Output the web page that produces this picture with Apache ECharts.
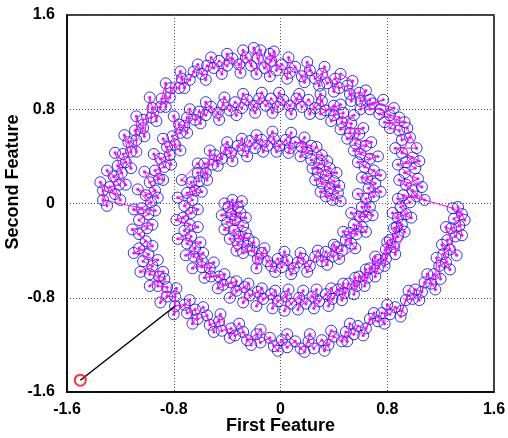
<!DOCTYPE html>
<html>
<head>
<meta charset="utf-8">
<script src="https://cdn.jsdelivr.net/npm/echarts@6/dist/echarts.min.js"></script>
<style>
  html, body { margin: 0; padding: 0; background: #fff; }
  #chart { width: 508px; height: 438px; }
</style>
</head>
<body>
<div id="chart"></div>
<script>
// first arm: starts at the inner cluster left of centre, winds outward
const armA = [
  [-0.36,0.03],[-0.39,-0.03],[-0.32,-0.03],[-0.37,-0.09],[-0.30,-0.08],[-0.34,-0.14],[-0.40,-0.16],[-0.28,-0.19],
  [-0.35,-0.23],[-0.31,-0.28],[-0.26,-0.25],[-0.32,-0.34],[-0.25,-0.36],[-0.28,-0.42],[-0.21,-0.40],[-0.17,-0.47],
  [-0.14,-0.42],[-0.10,-0.49],[-0.07,-0.53],[-0.02,-0.47],[0.01,-0.54],[0.05,-0.48],[0.10,-0.55],[0.13,-0.50],
  [0.17,-0.47],[0.22,-0.53],[0.26,-0.45],[0.31,-0.49],[0.34,-0.41],[0.39,-0.45],[0.42,-0.37],[0.46,-0.40],
  [0.49,-0.31],[0.53,-0.34],[0.52,-0.25],[0.57,-0.26],[0.55,-0.18],[0.61,-0.20],[0.59,-0.11],[0.64,-0.11],
  [0.61,-0.03],[0.67,-0.03],[0.64,0.04],[0.70,0.06],[0.66,0.13],[0.71,0.17],[0.65,0.21],[0.70,0.28],
  [0.63,0.31],[0.67,0.38],[0.60,0.42],[0.64,0.49],[0.56,0.51],[0.59,0.59],[0.52,0.60],[0.53,0.68],
  [0.46,0.69],[0.47,0.77],[0.40,0.75],[0.40,0.83],[0.34,0.79],[0.31,0.87],[0.26,0.81],[0.21,0.88],
  [0.16,0.82],[0.12,0.89],[0.07,0.83],[0.02,0.88],[-0.02,0.82],[-0.07,0.89],[-0.11,0.83],[-0.16,0.89],
  [-0.20,0.83],[-0.25,0.88],[-0.29,0.81],[-0.34,0.86],[-0.38,0.79],[-0.43,0.84],[-0.47,0.77],[-0.52,0.82],
  [-0.56,0.75],[-0.61,0.78],[-0.64,0.71],[-0.70,0.73],[-0.72,0.66],[-0.76,0.67],[-0.75,0.60],[-0.81,0.57],
  [-0.79,0.50],[-0.85,0.48],[-0.83,0.41],[-0.90,0.38],[-0.87,0.31],[-0.94,0.28],[-0.91,0.21],[-0.98,0.18],
  [-0.94,0.11],[-1.01,0.07],[-0.97,0.01],[-1.04,-0.04],[-0.99,-0.09],[-1.06,-0.14],[-1.00,-0.21],[-1.06,-0.26],
  [-1.01,-0.32],[-1.06,-0.38],[-0.99,-0.43],[-1.03,-0.49],[-0.96,-0.53],[-0.98,-0.60],[-0.91,-0.62],[-0.92,-0.70],
  [-0.85,-0.71],[-0.85,-0.79],[-0.79,-0.79],[-0.79,-0.87],[-0.72,-0.86],[-0.70,-0.93],[-0.64,-0.90],[-0.62,-0.98],
  [-0.55,-0.95],[-0.53,-1.03],[-0.46,-1.00],[-0.44,-1.08],[-0.37,-1.06],[-0.34,-1.12],[-0.28,-1.09],[-0.25,-1.16],
  [-0.18,-1.11],[-0.15,-1.18],[-0.08,-1.14],[-0.05,-1.21],[0.01,-1.16],[0.05,-1.22],[0.11,-1.17],[0.15,-1.23],
  [0.21,-1.17],[0.25,-1.23],[0.31,-1.16],[0.36,-1.20],[0.40,-1.13],[0.46,-1.17],[0.49,-1.09],[0.55,-1.11],
  [0.58,-1.04],[0.64,-1.06],[0.67,-0.98],[0.73,-1.00],[0.76,-0.93],[0.82,-0.94],[0.86,-0.88],[0.91,-0.91],
  [0.94,-0.82],[0.99,-0.81],[1.01,-0.73],[1.06,-0.75],[1.08,-0.67],[1.13,-0.68],[1.15,-0.60],[1.20,-0.64],
  [1.19,-0.53],[1.24,-0.50],[1.22,-0.43],[1.27,-0.39],[1.25,-0.31],[1.31,-0.28],[1.28,-0.21],[1.34,-0.19],
  [1.30,-0.13],[1.36,-0.09],[1.29,-0.04]
]

// more samples of the first arm, nearer the edges of its band
const armAEdge = [
  [-0.42,0.00],[-0.29,0.02],[-0.44,-0.10],[-0.26,-0.12],[-0.42,-0.22],[-0.24,-0.30],[-0.38,-0.30],[-0.33,-0.40],
  [-0.20,-0.33],[-0.18,-0.55],[-0.12,-0.38],[-0.04,-0.58],[0.03,-0.41],[0.08,-0.60],[0.15,-0.42],[0.20,-0.58],
  [0.28,-0.40],[0.35,-0.52],[0.40,-0.35],[0.44,-0.47],[0.56,-0.38],[0.47,-0.24],[0.64,-0.24],[0.53,-0.08],
  [0.69,-0.10],[0.58,0.08],[0.75,0.10],[0.61,0.22],[0.75,0.24],[0.58,0.35],[0.73,0.40],[0.55,0.45],
  [0.68,0.52],[0.50,0.55],[0.62,0.64],[0.45,0.63],[0.55,0.75],[0.38,0.70],[0.45,0.84],[0.30,0.76],
  [0.30,0.93],[0.22,0.76],[0.14,0.93],[0.08,0.76],[-0.01,0.94],[-0.06,0.77],[-0.14,0.94],[-0.19,0.77],
  [-0.28,0.93],[-0.33,0.75],[-0.42,0.90],[-0.46,0.71],[-0.56,0.86],[-0.60,0.68],[-0.68,0.80],[-0.70,0.60],
  [-0.80,0.74],[-0.75,0.45],[-0.88,0.55],[-0.82,0.33],[-0.95,0.42],[-0.88,0.20],[-1.02,0.27],[-0.92,0.05],
  [-1.07,0.12],[-0.94,-0.06],[-1.10,-0.05],[-0.96,-0.18],[-1.11,-0.22],[-0.96,-0.36],[-1.10,-0.42],[-0.92,-0.48],
  [-1.05,-0.58],[-0.88,-0.58],[-0.98,-0.70],[-0.87,-0.64],[-0.90,-0.84],[-0.78,-0.72],[-0.80,-0.94],[-0.68,-0.82],
  [-0.66,-1.02],[-0.58,-0.88],[-0.50,-1.09],[-0.45,-0.94],[-0.38,-1.14],[-0.31,-1.02],[-0.22,-1.20],[-0.15,-1.07],
  [-0.02,-1.25],[0.05,-1.11],[0.18,-1.26],[0.22,-1.11],[0.33,-1.25],[0.38,-1.08],[0.50,-1.17],[0.52,-1.02],
  [0.62,-1.12],[0.70,-0.93],[0.78,-1.02],[0.80,-0.86],[0.90,-0.96],[0.96,-0.74],[1.04,-0.82],[1.10,-0.60],
  [1.16,-0.73],[1.17,-0.46],[1.27,-0.56],[1.21,-0.35],[1.32,-0.44],[1.24,-0.20],[1.36,-0.27],[1.33,-0.03],
  [1.38,-0.14]
]

// second arm: starts right of centre, winds outward half a turn behind
const armB = [
  [0.39,0.03],[0.34,0.06],[0.43,0.09],[0.37,0.13],[0.31,0.17],[0.40,0.19],[0.34,0.24],[0.28,0.26],
  [0.37,0.30],[0.29,0.34],[0.23,0.37],[0.31,0.41],[0.20,0.43],[0.16,0.48],[0.23,0.49],[0.11,0.52],
  [0.07,0.47],[0.04,0.54],[-0.01,0.49],[-0.05,0.55],[-0.10,0.49],[-0.14,0.54],[-0.19,0.47],[-0.23,0.53],
  [-0.28,0.45],[-0.32,0.49],[-0.37,0.43],[-0.41,0.46],[-0.44,0.38],[-0.49,0.41],[-0.51,0.33],[-0.57,0.34],
  [-0.56,0.26],[-0.62,0.26],[-0.61,0.19],[-0.67,0.18],[-0.64,0.11],[-0.70,0.09],[-0.66,0.03],[-0.72,-0.02],
  [-0.67,-0.08],[-0.73,-0.12],[-0.68,-0.18],[-0.72,-0.23],[-0.67,-0.28],[-0.70,-0.34],[-0.64,-0.38],[-0.65,-0.45],
  [-0.59,-0.48],[-0.59,-0.54],[-0.53,-0.55],[-0.52,-0.62],[-0.46,-0.62],[-0.43,-0.69],[-0.37,-0.67],[-0.33,-0.74],
  [-0.27,-0.71],[-0.23,-0.78],[-0.17,-0.75],[-0.13,-0.81],[-0.07,-0.77],[-0.02,-0.83],[0.04,-0.79],[0.08,-0.85],
  [0.14,-0.80],[0.19,-0.85],[0.24,-0.79],[0.29,-0.83],[0.34,-0.77],[0.39,-0.81],[0.43,-0.73],[0.48,-0.76],
  [0.51,-0.68],[0.57,-0.70],[0.59,-0.62],[0.65,-0.63],[0.67,-0.55],[0.73,-0.55],[0.73,-0.48],[0.79,-0.47],
  [0.79,-0.39],[0.85,-0.37],[0.82,-0.31],[0.88,-0.28],[0.85,-0.21],[0.91,-0.18],[0.88,-0.12],[0.94,-0.09],
  [0.90,-0.03],[0.97,0.01],[0.92,0.07],[1.08,0.03],[0.99,0.11],[0.94,0.16],[1.03,0.21],[0.93,0.26],
  [1.01,0.30],[0.94,0.35],[0.99,0.39],[0.91,0.43],[0.97,0.56],[0.91,0.54],[0.89,0.62],[0.82,0.64],
  [0.89,0.73],[0.82,0.75],[0.75,0.80],[0.67,0.80],[0.67,0.88],[0.60,0.87],[0.59,0.94],[0.52,0.93],
  [0.50,1.00],[0.44,0.98],[0.41,1.06],[0.35,1.02],[0.31,1.10],[0.26,1.06],[0.22,1.13],[0.16,1.08],
  [0.11,1.16],[0.07,1.11],[0.01,1.18],[-0.03,1.13],[-0.05,1.29],[-0.07,1.21],[-0.12,1.15],[-0.17,1.23],
  [-0.20,1.32],[-0.22,1.17],[-0.26,1.24],[-0.31,1.18],[-0.36,1.23],[-0.40,1.17],[-0.46,1.21],[-0.50,1.15],
  [-0.55,1.17],[-0.59,1.10],[-0.65,1.12],[-0.68,1.05],[-0.74,1.06],[-0.76,0.98],[-0.82,0.98],[-0.83,0.90],
  [-0.89,0.89],[-0.90,0.82],[-0.96,0.81],[-0.97,0.73],[-1.03,0.71],[-1.03,0.64],[-1.09,0.62],[-1.08,0.54],
  [-1.14,0.52],[-1.12,0.44],[-1.18,0.42],[-1.16,0.35],[-1.22,0.32],[-1.19,0.26],[-1.25,0.23],[-1.21,0.16],
  [-1.28,0.14],[-1.24,0.08],[-1.33,0.11],[-1.33,0.03]
]

// more samples of the second arm, nearer the edges of its band
const armBEdge = [
  [0.45,0.02],[0.30,0.10],[0.44,0.15],[0.26,0.20],[0.42,0.26],[0.24,0.30],[0.35,0.36],[0.27,0.48],
  [0.15,0.40],[0.18,0.56],[0.06,0.43],[0.08,0.60],[-0.03,0.44],[-0.06,0.61],[-0.13,0.44],[-0.18,0.58],
  [-0.25,0.40],[-0.29,0.55],[-0.36,0.36],[-0.40,0.52],[-0.47,0.32],[-0.53,0.45],[-0.55,0.20],[-0.62,0.34],
  [-0.74,0.20],[-0.59,0.10],[-0.77,0.05],[-0.62,-0.05],[-0.78,-0.14],[-0.62,-0.20],[-0.77,-0.30],[-0.60,-0.33],
  [-0.71,-0.44],[-0.58,-0.42],[-0.66,-0.55],[-0.50,-0.50],[-0.57,-0.63],[-0.42,-0.60],[-0.47,-0.72],[-0.33,-0.66],
  [-0.38,-0.80],[-0.24,-0.68],[-0.28,-0.84],[-0.14,-0.72],[-0.18,-0.87],[-0.04,-0.74],[-0.06,-0.89],[0.06,-0.73],
  [0.03,-0.91],[0.17,-0.74],[0.13,-0.90],[0.27,-0.73],[0.25,-0.89],[0.38,-0.72],[0.36,-0.87],[0.47,-0.68],
  [0.46,-0.82],[0.56,-0.63],[0.55,-0.77],[0.64,-0.56],[0.63,-0.70],[0.71,-0.45],[0.71,-0.62],[0.80,-0.33],
  [0.78,-0.53],[0.87,-0.20],[0.86,-0.43],[0.93,-0.24],[0.84,-0.08],[0.98,-0.12],[0.88,0.04],[1.02,0.06],
  [0.89,0.20],[1.06,0.14],[0.88,0.33],[1.04,0.36],[0.86,0.47],[1.02,0.47],[0.95,0.64],[0.78,0.69],
  [0.93,0.69],[0.74,0.76],[0.85,0.81],[0.69,0.85],[0.77,0.88],[0.60,0.80],[0.64,0.96],[0.53,0.87],
  [0.54,1.04],[0.45,1.10],[0.40,0.95],[0.33,1.16],[0.29,1.00],[0.20,1.20],[0.18,1.03],[0.06,1.24],
  [0.05,1.06],[-0.08,1.27],[-0.08,1.08],[-0.15,1.30],[-0.18,1.10],[-0.28,1.30],[-0.30,1.11],[-0.40,1.27],
  [-0.44,1.10],[-0.52,1.24],[-0.56,1.05],[-0.62,1.18],[-0.72,0.98],[-0.75,1.12],[-0.86,0.82],[-0.86,1.02],
  [-0.93,0.70],[-0.98,0.90],[-1.02,0.57],[-1.08,0.74],[-1.08,0.44],[-1.17,0.58],[-1.12,0.30],[-1.24,0.43],
  [-1.16,0.16],[-1.30,0.28],[-1.20,0.03],[-1.35,0.18],[-1.30,-0.02]
]

// the out-of-sample point (red)
const queryPoint = [[-1.5, -1.5]]

const axisTicks = [-1.6, -0.8, 0, 0.8, 1.6]
const xName = 'First Feature'
const yName = 'Second Feature'

// nearest point of a set, used for the link lines
const nearest = (p, pts) => {
  let best = pts[0]
  let bestD = Infinity
  pts.forEach(q => {
    const d = (q[0] - p[0]) ** 2 + (q[1] - p[1]) ** 2
    if (d < bestD) { bestD = d; best = q }
  })
  return best
}

const allPoints = armA.concat(armAEdge, armB, armBEdge)
const endA = armA[armA.length - 1]
const endB = armB[armB.length - 1]
const linkA = [endA, nearest(endA, armB)]
const linkB = [endB, nearest(endB, armA)]
const queryLink = [queryPoint[0], nearest(queryPoint[0], armA)]

const MAGENTA = '#ff00ff'
const labelFont = { fontFamily: 'Liberation Sans', fontWeight: 'bold', fontSize: 16, color: '#000' }
const nameFont = { fontFamily: 'Liberation Sans', fontWeight: 'bold', fontSize: 18, color: '#000' }

const fmt = v => (Math.abs(v) < 1e-9 ? '0' : v.toFixed(1))

const magentaLine = (data, showDots) => ({
  type: 'line',
  data,
  z: 4,
  symbol: showDots ? 'circle' : 'none',
  symbolSize: 3,
  itemStyle: { color: MAGENTA },
  lineStyle: { color: MAGENTA, width: 1 },
  silent: true
})

const chart = echarts.init(document.getElementById('chart'))
chart.setOption({
  animation: false,
  backgroundColor: '#fff',
  grid: {
    left: 67,
    right: 14,
    top: 15,
    bottom: 46,
    outerBoundsMode: 'none',
    containLabel: false,
    show: true,
    borderColor: '#000',
    borderWidth: 1.5
  },
  xAxis: {
    type: 'value',
    min: axisTicks[0],
    max: axisTicks[axisTicks.length - 1],
    interval: 0.8,
    name: xName,
    nameLocation: 'middle',
    nameGap: 25,
    nameMoveOverlap: false,
    nameTextStyle: nameFont,
    axisLine: { show: true, onZero: false, lineStyle: { color: '#000', width: 1.5 } },
    axisTick: { show: false },
    axisLabel: { ...labelFont, margin: 10, formatter: fmt },
    splitLine: { show: true, lineStyle: { color: '#555', type: [1, 2], width: 1 } }
  },
  yAxis: {
    type: 'value',
    min: axisTicks[0],
    max: axisTicks[axisTicks.length - 1],
    interval: 0.8,
    name: yName,
    nameLocation: 'middle',
    nameRotate: 90,
    nameGap: 45,
    nameMoveOverlap: false,
    nameTextStyle: { ...nameFont, padding: [0, 0, 0, 43] },
    axisLine: { show: true, onZero: false, lineStyle: { color: '#000', width: 1.5 } },
    axisTick: { show: false },
    axisLabel: { ...labelFont, margin: 12, formatter: fmt },
    splitLine: { show: true, lineStyle: { color: '#555', type: [1, 2], width: 1 } }
  },
  series: [
    {
      type: 'scatter',
      data: allPoints,
      z: 3,
      symbol: 'circle',
      symbolSize: 11,
      itemStyle: { color: 'rgba(0,0,0,0)', borderColor: '#0000ff', borderWidth: 1 },
      silent: true
    },
    magentaLine(armA, true),
    magentaLine(armAEdge, true),
    magentaLine(armB, true),
    magentaLine(armBEdge, true),
    magentaLine(linkA, false),
    magentaLine(linkB, false),
    {
      type: 'line',
      data: queryLink,
      z: 5,
      symbol: 'none',
      lineStyle: { color: '#000', width: 1.5 },
      silent: true
    },
    {
      type: 'scatter',
      data: queryPoint,
      z: 6,
      symbol: 'circle',
      symbolSize: 11,
      itemStyle: { color: 'rgba(0,0,0,0)', borderColor: '#ff0000', borderWidth: 2 },
      silent: true
    }
  ]
})
</script>
</body>
</html>
